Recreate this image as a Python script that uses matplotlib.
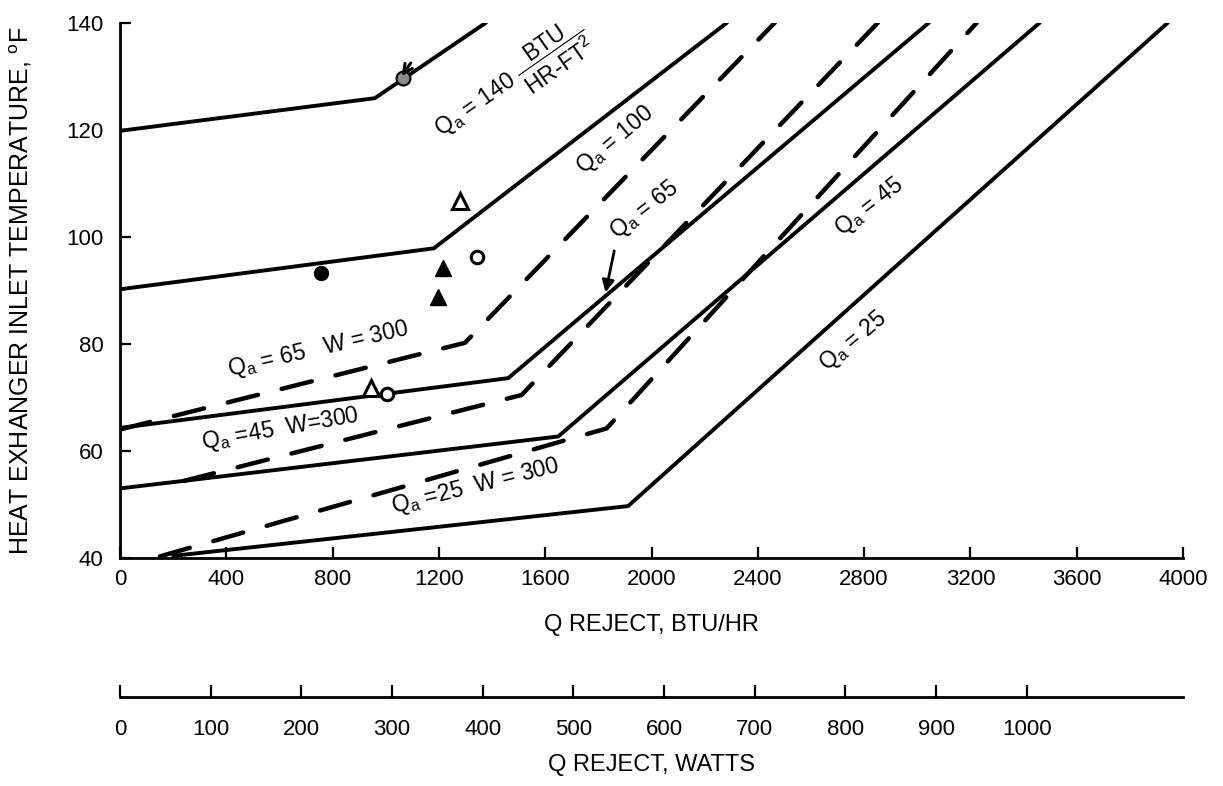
import matplotlib
matplotlib.use("Agg")
import matplotlib.pyplot as plt

plt.rcParams['font.family'] = ['Liberation Sans', 'DejaVu Sans']
plt.rcParams['mathtext.default'] = 'regular'

btu_ticks = [0, 400, 800, 1200, 1600, 2000, 2400, 2800, 3200, 3600, 4000]
temp_ticks = [40, 60, 80, 100, 120, 140]
watt_ticks = [0, 100, 200, 300, 400, 500, 600, 700, 800, 900, 1000]
btu_per_watt = 3.412

# solid curves (Qa in BTU/HR-FT2)
qa140_x = [0, 959, 1377]
qa140_y = [119.8, 125.9, 140]
qa100_x = [0, 1181, 2284]
qa100_y = [90.2, 97.85, 140]
qa65_x = [0, 1461, 3044]
qa65_y = [64.3, 73.6, 140]
qa45_x = [0, 1649, 3461]
qa45_y = [53.0, 62.7, 140]
qa25_x = [200, 1912, 3943]
qa25_y = [40.4, 49.7, 140]

# dashed curves, W = 300
w65_x = [0, 1298, 2464]
w65_y = [64.0, 80.2, 140]
w45_x = [240, 1511, 2852]
w45_y = [54.4, 70.45, 140]
w25_x = [150, 1831, 3224]
w25_y = [40.3, 64.2, 140]

# test points
fill_circ_x = [755]
fill_circ_y = [93.3]
fill_tri_x = [1216, 1196]
fill_tri_y = [94.1, 88.7]
open_tri_x = [1279, 943]
open_tri_y = [106.6, 71.7]
open_circ_x = [1345, 1003]
open_circ_y = [96.2, 70.6]
grey_circ_x = [1066]
grey_circ_y = [129.6]

fig = plt.figure(figsize=(12.23, 7.86), dpi=100)
ax = fig.add_axes([120 / 1223, 1 - 558 / 786, 1063 / 1223, 535.3 / 786])

for xs, ys in [(qa140_x, qa140_y), (qa100_x, qa100_y), (qa65_x, qa65_y),
               (qa45_x, qa45_y), (qa25_x, qa25_y)]:
    ax.plot(xs, ys, color='black', lw=2.8, solid_capstyle='round',
            solid_joinstyle='round')

for xs, ys in [(w65_x, w65_y), (w45_x, w45_y), (w25_x, w25_y)]:
    ax.plot(xs, ys, color='black', lw=3.2, dashes=(7, 5.5),
            dash_capstyle='round', dash_joinstyle='round')

ax.plot(fill_circ_x, fill_circ_y, 'o', color='black', ms=10)
ax.plot(fill_tri_x, fill_tri_y, '^', color='black', ms=12)
ax.plot(open_tri_x, open_tri_y, '^', mfc='white', mec='black', mew=2.2, ms=11)
ax.plot(open_circ_x, open_circ_y, 'o', mfc='white', mec='black', mew=2.2, ms=9)
ax.plot(grey_circ_x, grey_circ_y, 'o', mfc='0.55', mec='black', mew=1.5, ms=10)

ax.annotate('', xy=(1054, 129.6), xytext=(1100, 132.9),
            arrowprops=dict(arrowstyle='->', color='black', lw=2.2,
                            mutation_scale=16))
ax.annotate('', xy=(1825, 89.1), xytext=(1862, 97.9),
            arrowprops=dict(arrowstyle='-|>', color='black', lw=2,
                            mutation_scale=18))

lbl = dict(fontsize=16.5, ha='center', va='center', rotation_mode='anchor')
ax.text(1475, 128.8, r'$Q_a$ = 140 $\dfrac{BTU}{HR\text{-}FT^2}$', rotation=35, **lbl)
ax.text(1862, 118.1, r'$Q_a$ = 100', rotation=40, **lbl)
ax.text(1975, 105.0, r'$Q_a$ = 65', rotation=38, **lbl)
ax.text(2822, 105.5, r'$Q_a$ = 45', rotation=38, **lbl)
ax.text(2758, 80.4, r'$Q_a$ = 25', rotation=40, **lbl)
ax.text(745, 78.9, r'$Q_a$ = 65   W = 300', rotation=13, **lbl)
ax.text(602, 64.1, r'$Q_a$ =45  W=300', rotation=10, **lbl)
ax.text(1336, 53.3, r'$Q_a$ =25  W = 300', rotation=14, **lbl)

ax.set_xlim(0, 4000)
ax.set_ylim(40, 140)
ax.set_xticks(btu_ticks)
ax.set_yticks(temp_ticks)
ax.spines['top'].set_visible(False)
ax.spines['right'].set_visible(False)
ax.spines['left'].set_linewidth(2)
ax.spines['bottom'].set_linewidth(2)
ax.tick_params(direction='in', length=8, width=1.6, labelsize=16)
ax.tick_params(axis='x', pad=8)
ax.tick_params(axis='y', pad=12)

ax.set_xlabel('Q REJECT, BTU/HR', fontsize=17)
ax.xaxis.set_label_coords(0.5, -(614 - 558) / 535.3)
ax.set_ylabel('HEAT EXHANGER INLET TEMPERATURE, $^{o}$F', fontsize=18)
ax.yaxis.set_label_coords(-(120 - 34) / 1063, 0.5)

secax = ax.secondary_xaxis(-(697 - 558) / 535.3,
                           functions=(lambda b: b / btu_per_watt,
                                      lambda w: w * btu_per_watt))
secax.set_xticks(watt_ticks)
secax.spines['bottom'].set_linewidth(2)
secax.tick_params(direction='in', length=9, width=1.6, labelsize=16, pad=16)
secax.set_xlabel('Q REJECT, WATTS', fontsize=17, labelpad=10)

fig.savefig('out.png', dpi=100)
